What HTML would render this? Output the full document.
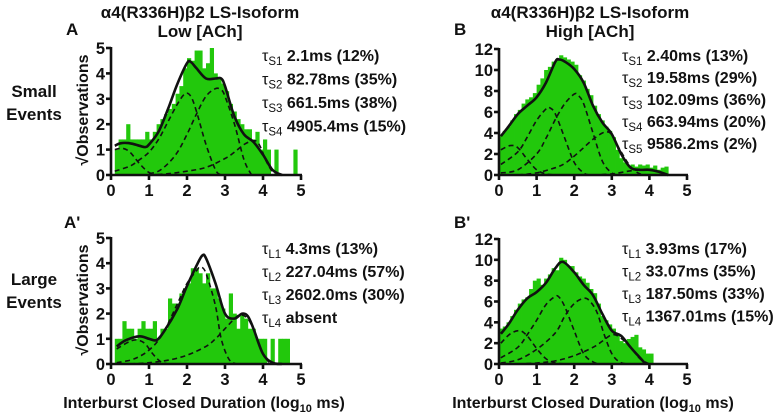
<!DOCTYPE html>
<html><head><meta charset="utf-8">
<style>
html,body{margin:0;padding:0;background:#fff;}
svg{display:block;font-family:"Liberation Sans",Arial,sans-serif;}
</style></head>
<body>
<svg id="fig" width="774" height="414" viewBox="0 0 774 414" xmlns="http://www.w3.org/2000/svg">
<g font-weight="bold" font-size="17" text-anchor="middle" fill="#111">
<text x="200" y="18">α4(R336H)β2 LS-Isoform</text>
<text x="200" y="37">Low [ACh]</text>
<text x="590" y="18">α4(R336H)β2 LS-Isoform</text>
<text x="590" y="37">High [ACh]</text>
</g>
<g font-weight="bold" font-size="17" fill="#111">
<text x="66" y="35">A</text>
<text x="454" y="35">B</text>
<text x="64" y="228">A'</text>
<text x="454" y="228">B'</text>
</g>
<g font-weight="bold" font-size="17" text-anchor="middle" fill="#111">
<text x="34" y="97">Small</text>
<text x="34" y="120">Events</text>
<text x="34" y="285">Large</text>
<text x="34" y="308">Events</text>
</g>
<g font-weight="bold" font-size="16" text-anchor="middle" fill="#111">
<text x="204" y="408">Interburst Closed Duration (log<tspan font-size="11" dy="4">10</tspan><tspan dy="-4"> ms)</tspan></text>
<text x="593" y="408">Interburst Closed Duration (log<tspan font-size="11" dy="4">10</tspan><tspan dy="-4"> ms)</tspan></text>
<text transform="translate(88,110) rotate(-90)">√Observations</text>
<text transform="translate(88,300) rotate(-90)">√Observations</text>
</g>
<g id="plots"></g>
</svg>
<script>
// ---------- data ----------
const binCenters = [0.05,0.15,0.25,0.35,0.45,0.55,0.65,0.75,0.85,0.95,1.05,1.15,1.25,1.35,1.45,1.55,1.65,1.75,1.85,1.95,2.05,2.15,2.25,2.35,2.45,2.55,2.65,2.75,2.85,2.95,3.05,3.15,3.25,3.35,3.45,3.55,3.65,3.75,3.85,3.95,4.05,4.15,4.25,4.35,4.45,4.55,4.65,4.75,4.85];
const histA = [0,1,1.4,1.4,2,1.4,1.4,1.4,1.4,1.7,1.4,1.7,2,2.2,2.4,2.6,2.8,3.2,3.5,4.2,4.6,4.5,4.9,4.9,4.2,4.4,5,4,3.8,3.6,3.3,2.8,2.5,2.2,2,1.8,1.8,1.4,1.7,1,1.4,1,0,1,0,0,0,0,1];
const histB = [3.8,4.2,4.6,5.2,5.8,6.2,6.8,7.2,7.4,7.8,8.6,9.2,10,10.3,10.8,11,11.4,11.2,11,10.8,10.5,9.5,9,8.2,7.6,6.6,5.8,5.2,4.6,4.2,3.6,2.4,1.6,1.2,0.9,1,0.8,1,0.9,1,0.7,0.9,0.5,0.7,0.8,0,0,0,0];
const histAp = [0,1,1,1.7,1.4,1.4,1,1.4,1.7,1.4,1.4,1.7,1,1.4,1.4,2.6,2.4,2.4,2.8,3,3.2,3.8,3.8,3.6,3.2,3.6,3,3,2.6,2.2,1.8,2.8,2,1.4,2,1.8,1.4,1.4,1,1,1,0,1,0,1,1,1,0,0];
const histBp = [3.4,3.6,4,4.6,5.2,5.8,6.2,6.4,7.2,8,8.2,7.6,8.2,8.6,9.2,9,10.2,10,9.4,9.4,8.8,8.4,8.2,7.8,7.2,6.8,5.8,4.6,4.2,3.8,3.4,2.8,2.2,2,2.4,2.6,2.8,1.6,1.4,1,1,0,0,0,0,0,0,0,0];

const fitA_x = [0.1,0.25,0.5,0.75,0.9,1.0,1.25,1.5,1.75,2.0,2.1,2.25,2.5,2.75,2.9,3.0,3.25,3.5,3.75,4.0,4.25,4.5];
const fitA_y = [1.15,1.25,1.25,1.15,1.1,1.2,1.7,2.6,3.6,4.4,4.45,4.2,3.8,3.8,3.8,3.5,2.3,1.6,1.3,0.8,0.2,0];
const compA1_x=[0.1,0.3,0.5,0.75,1.0,1.25], compA1_y=[1.0,1.05,0.9,0.45,0.1,0];
const compA2_x=[0.1,0.5,0.75,1.0,1.25,1.5,1.75,1.95,2.1,2.25,2.5,2.75,2.9], compA2_y=[0.15,0.35,0.6,0.9,1.4,2.1,2.8,3.2,3.1,2.5,1.2,0.2,0];
const compA3_x=[1.0,1.25,1.5,1.75,2.0,2.25,2.5,2.75,2.9,3.0,3.25,3.5,3.7], compA3_y=[0.05,0.15,0.45,0.9,1.6,2.4,3.1,3.4,3.35,3.1,2.0,0.6,0];
const compA4_x=[1.0,1.5,2.0,2.5,3.0,3.25,3.5,3.75,3.9,4.1,4.3], compA4_y=[0,0.05,0.15,0.3,0.65,0.9,1.2,1.35,1.2,0.5,0];

const fitB_x=[0.05,0.25,0.5,0.75,1.0,1.25,1.5,1.6,1.75,2.0,2.25,2.5,2.75,3.0,3.25,3.5,3.75,4.0,4.25,4.5];
const fitB_y=[3.7,4.6,5.8,6.6,7.4,8.8,10.8,11.0,10.8,10.1,8.8,6.6,5.0,3.9,2.0,0.7,0.5,0.5,0.3,0];
const compB1_x=[0.05,0.3,0.5,0.75,1.0,1.25,1.5], compB1_y=[2.4,2.8,2.6,1.5,0.5,0.1,0];
const compB2_x=[0.05,0.5,0.75,1.0,1.25,1.35,1.5,1.75,2.0,2.25,2.4], compB2_y=[1.0,2.2,3.6,5.2,6.3,6.4,5.8,3.5,1.2,0.2,0];
const compB3_x=[0.05,0.5,1.0,1.25,1.5,1.75,2.0,2.1,2.25,2.5,2.75,3.0,3.2], compB3_y=[0.2,0.5,2.0,3.5,5.3,6.8,7.7,7.6,6.8,4.0,1.3,0.2,0];
const compB4_x=[0.5,1.0,1.5,1.75,2.0,2.25,2.5,2.75,2.9,3.0,3.25,3.5,3.75,4.0], compB4_y=[0,0.2,0.7,1.1,1.8,2.6,3.4,4.0,4.1,3.8,2.2,0.8,0.1,0];
const compB5_x=[2.5,3.0,3.5,3.75,4.0,4.25,4.5], compB5_y=[0,0.1,0.4,0.5,0.5,0.3,0];

const fitAp_x=[0.15,0.4,0.75,1.0,1.2,1.4,1.75,2.0,2.25,2.4,2.5,2.75,3.0,3.25,3.45,3.6,3.75,4.0,4.25,4.5];
const fitAp_y=[0.7,0.95,1.1,1.0,0.95,1.3,2.2,3.1,3.9,4.3,4.2,3.2,2.0,1.8,2.0,1.9,1.4,0.4,0.05,0];
const compAp1_x=[0.15,0.5,0.7,0.9,1.1,1.3,1.5], compAp1_y=[0.6,0.9,0.95,0.8,0.4,0.1,0];
const compAp2_x=[0.15,0.5,0.75,1.0,1.25,1.5,1.75,2.0,2.25,2.35,2.5,2.75,2.9,3.1,3.3], compAp2_y=[0.05,0.15,0.3,0.55,0.95,1.6,2.4,3.2,3.7,3.85,3.6,2.3,1.0,0.2,0];
const compAp3_x=[0.5,1.0,1.5,2.0,2.5,2.75,3.0,3.25,3.4,3.6,3.8,4.0,4.2], compAp3_y=[0,0.05,0.15,0.35,0.7,1.0,1.4,1.8,1.95,1.8,1.2,0.4,0];

const fitBp_x=[0.05,0.25,0.5,0.75,1.0,1.25,1.5,1.7,2.0,2.25,2.5,2.75,3.0,3.25,3.5,3.75,3.9];
const fitBp_y=[2.9,3.8,5.2,6.3,6.9,7.8,9.2,9.8,8.8,7.6,6.6,4.8,3.2,2.7,1.6,0.6,0];
const compBp1_x=[0.05,0.3,0.55,0.75,1.0,1.25,1.5,1.75], compBp1_y=[2.0,2.9,3.2,2.7,1.5,0.5,0.1,0];
const compBp2_x=[0.05,0.5,0.75,1.0,1.25,1.5,1.6,1.75,2.0,2.25,2.5,2.7], compBp2_y=[0.6,1.6,2.8,4.2,5.7,6.5,6.4,5.5,3.2,1.0,0.2,0];
const compBp3_x=[0.05,0.5,1.0,1.5,1.75,2.0,2.25,2.4,2.6,2.8,3.0,3.2,3.4], compBp3_y=[0.1,0.4,1.4,3.0,4.6,5.8,6.3,6.1,5.0,2.8,1.0,0.2,0];
const compBp4_x=[0.5,1.0,1.5,2.0,2.5,2.75,3.0,3.2,3.5,3.75,4.0], compBp4_y=[0,0.1,0.3,0.8,1.6,2.2,2.8,2.6,1.6,0.5,0];

const xTicks=[0,1,2,3,4,5];
const yTicks5=[0,1,2,3,4,5];
const yTicks12=[0,2,4,6,8,10,12];

const tauA=[["S1","2.1ms (12%)"],["S2","82.78ms (35%)"],["S3","661.5ms (38%)"],["S4","4905.4ms (15%)"]];
const tauB=[["S1","2.40ms (13%)"],["S2","19.58ms (29%)"],["S3","102.09ms (36%)"],["S4","663.94ms (20%)"],["S5","9586.2ms (2%)"]];
const tauAp=[["L1","4.3ms (13%)"],["L2","227.04ms (57%)"],["L3","2602.0ms (30%)"],["L4","absent"]];
const tauBp=[["L1","3.93ms (17%)"],["L2","33.07ms (35%)"],["L3","187.50ms (33%)"],["L4","1367.01ms (15%)"]];

// ---------- drawing ----------
const NS="http://www.w3.org/2000/svg";
const root=document.getElementById('plots');
function mk(tag,attrs,parent){const e=document.createElementNS(NS,tag);for(const k in attrs)e.setAttribute(k,attrs[k]);(parent||root).appendChild(e);return e;}
function smooth(pts){
  let d="M"+pts[0][0].toFixed(1)+","+pts[0][1].toFixed(1);
  for(let i=0;i<pts.length-1;i++){
    const p0=pts[i-1]||pts[i],p1=pts[i],p2=pts[i+1],p3=pts[i+2]||p2;
    const c1=[p1[0]+(p2[0]-p0[0])/6,p1[1]+(p2[1]-p0[1])/6];
    const c2=[p2[0]-(p3[0]-p1[0])/6,p2[1]-(p3[1]-p1[1])/6];
    d+="C"+c1[0].toFixed(1)+","+c1[1].toFixed(1)+" "+c2[0].toFixed(1)+","+c2[1].toFixed(1)+" "+p2[0].toFixed(1)+","+p2[1].toFixed(1);
  }
  return d;
}
function panel(cfg){
  const g=mk('g',{});
  
  
  const sx=v=>cfg.x0+(cfg.x1-cfg.x0)*v/5;
  const sy=v=>cfg.y0-(cfg.y0-cfg.yTop)*v/cfg.ymax;
  const bw=(sx(0.1)-sx(0));
  const hg=mk('g',{fill:'#22c80c'},g);
  
  
  binCenters.forEach((c,i)=>{
    const v=cfg.hist[i]; if(!v) return;
    const r=mk('rect',{x:(sx(c)-bw/2).toFixed(2),y:sy(v).toFixed(2),width:(bw+0.4).toFixed(2),height:(cfg.y0-sy(v)).toFixed(2)},hg);
    
    
  });
  cfg.comps.forEach((c,i)=>{
    const p=mk('path',{d:smooth(c[0].map((x,j)=>[sx(x),sy(c[1][j])])),fill:'none',stroke:'#111','stroke-width':1.6,'stroke-dasharray':'5,3.5'},g);
    
    
  });
  const f=mk('path',{d:smooth(cfg.fit[0].map((x,j)=>[sx(x),sy(cfg.fit[1][j])])),fill:'none',stroke:'#111','stroke-width':2.6},g);
  
  
  const ax=mk('g',{stroke:'#111','stroke-width':2.6},g);
  
  
  mk('line',{x1:cfg.x0,y1:cfg.yTop-1,x2:cfg.x0,y2:cfg.y0+1},ax);
  mk('line',{x1:cfg.x0-1,y1:cfg.y0,x2:cfg.x1+1,y2:cfg.y0},ax);
  const tg=mk('g',{'font-weight':'bold','font-size':16.5,fill:'#111'},g);
  
  
  xTicks.forEach(t=>{
    mk('line',{x1:sx(t),y1:cfg.y0,x2:sx(t),y2:cfg.y0+5},ax);
    const tx=mk('text',{x:sx(t),y:cfg.y0+21,'text-anchor':'middle'},tg);tx.textContent=t;
    
    
  });
  cfg.yt.forEach(t=>{
    mk('line',{x1:cfg.x0-5,y1:sy(t),x2:cfg.x0,y2:sy(t)},ax);
    const tx=mk('text',{x:cfg.x0-6,y:sy(t)+6,'text-anchor':'end'},tg);tx.textContent=t;
    
    
  });
  const lg=mk('g',{fill:'#111'},g);
  
  
  cfg.tau.forEach((t,i)=>{
    const tx=mk('text',{x:cfg.tx,y:cfg.ty+i*cfg.tdy,'font-size':16},lg);
    
    
    tx.innerHTML='τ<tspan font-size="11.5" dy="4">'+t[0]+'</tspan><tspan dy="-4" font-weight="bold"> '+t[1]+'</tspan>';
  });
}
panel({name:'panel-a',x0:111,x1:301,y0:175,yTop:48,ymax:5,yt:yTicks5,hist:histA,fit:[fitA_x,fitA_y],
  comps:[[compA1_x,compA1_y],[compA2_x,compA2_y],[compA3_x,compA3_y],[compA4_x,compA4_y]],tau:tauA,tx:262,ty:61,tdy:23.5});
panel({name:'panel-b',x0:499,x1:687,y0:175,yTop:49,ymax:12,yt:yTicks12,hist:histB,fit:[fitB_x,fitB_y],
  comps:[[compB1_x,compB1_y],[compB2_x,compB2_y],[compB3_x,compB3_y],[compB4_x,compB4_y],[compB5_x,compB5_y]],tau:tauB,tx:622,ty:61,tdy:22});
panel({name:'panel-a-prime',x0:111,x1:301,y0:364,yTop:238,ymax:5,yt:yTicks5,hist:histAp,fit:[fitAp_x,fitAp_y],
  comps:[[compAp1_x,compAp1_y],[compAp2_x,compAp2_y],[compAp3_x,compAp3_y]],tau:tauAp,tx:262,ty:254,tdy:23});
panel({name:'panel-b-prime',x0:499,x1:687,y0:364,yTop:239,ymax:12,yt:yTicks12,hist:histBp,fit:[fitBp_x,fitBp_y],
  comps:[[compBp1_x,compBp1_y],[compBp2_x,compBp2_y],[compBp3_x,compBp3_y],[compBp4_x,compBp4_y]],tau:tauBp,tx:622,ty:254,tdy:22.5});
</script>
</body></html>
